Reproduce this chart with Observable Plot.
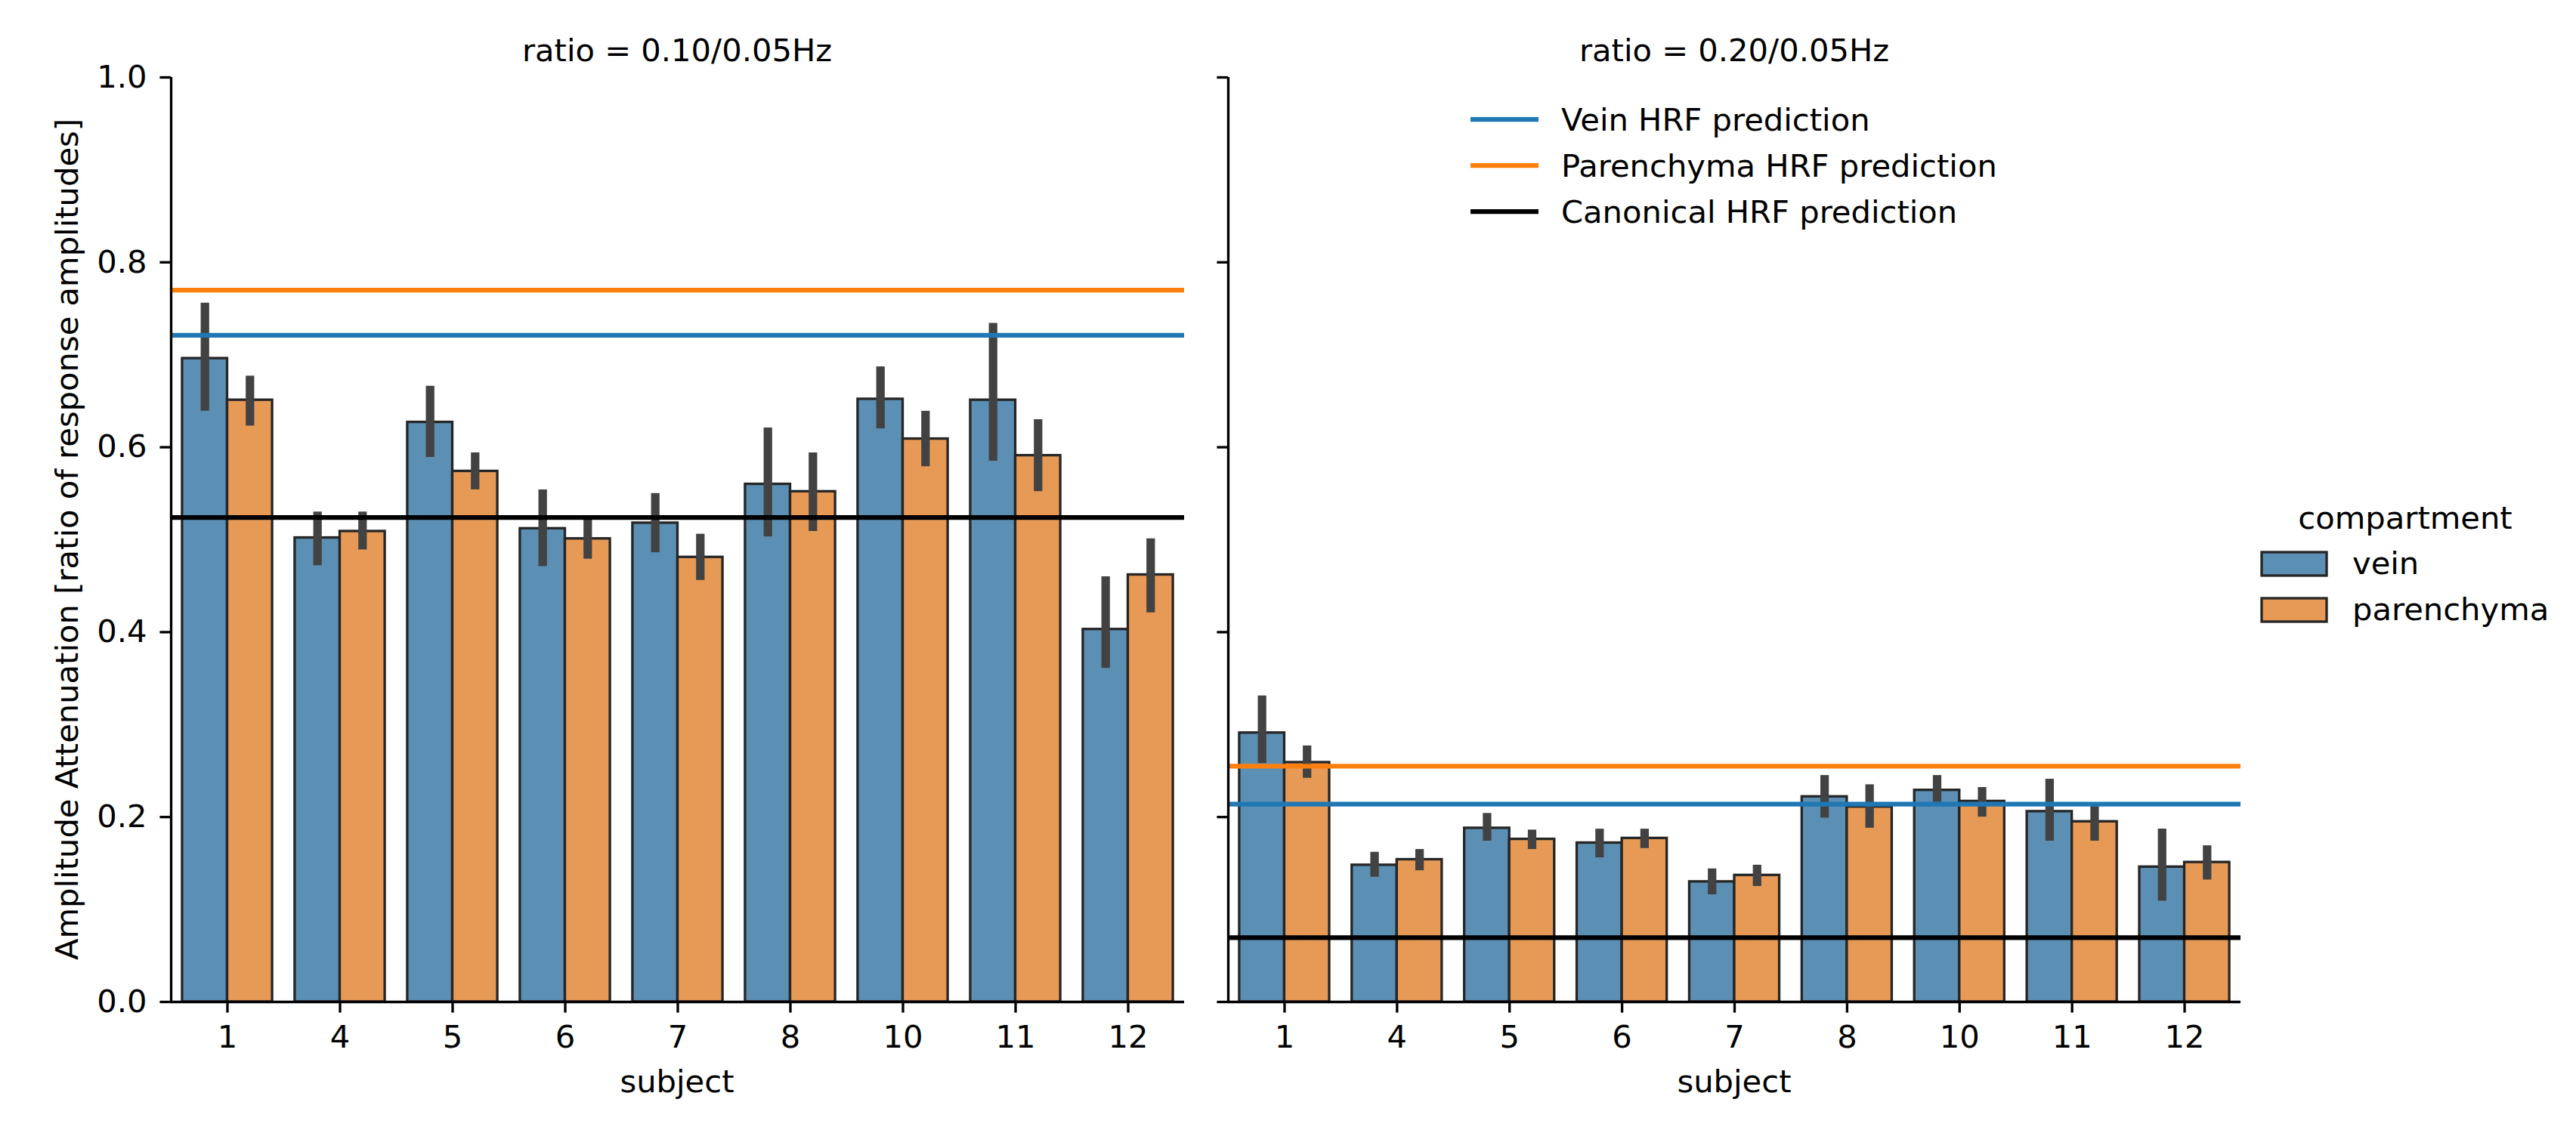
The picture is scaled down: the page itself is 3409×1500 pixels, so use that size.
<!DOCTYPE html>
<html>
<head>
<meta charset="utf-8">
<script src="https://cdn.jsdelivr.net/npm/d3@7"></script>
<script src="https://cdn.jsdelivr.net/npm/@observablehq/plot@0.6"></script>
<style>
  html, body { margin: 0; padding: 0; background: #fff; }
  #fig { position: relative; width: 3409px; height: 1500px; background: #fff; font-family: "DejaVu Sans"; overflow: hidden; }
  #fig > svg { position: absolute; top: 0; }
</style>
</head>
<body>
<div id="fig"></div>
<script>
// ---------- data ----------
const subjects = ["1", "4", "5", "6", "7", "8", "10", "11", "12"];
const compartments = ["vein", "parenchyma"];
const ratioLabels = ["ratio = 0.10/0.05Hz", "ratio = 0.20/0.05Hz"];
const yTicks = [0, 0.2, 0.4, 0.6, 0.8, 1.0];

// ratio 0.10/0.05Hz
const veinMeanA = [0.696, 0.502, 0.627, 0.512, 0.518, 0.560, 0.652, 0.651, 0.403];
const veinLoA   = [0.639, 0.472, 0.589, 0.471, 0.486, 0.503, 0.620, 0.585, 0.361];
const veinHiA   = [0.756, 0.530, 0.666, 0.554, 0.550, 0.621, 0.687, 0.734, 0.460];
const parMeanA  = [0.651, 0.509, 0.574, 0.501, 0.481, 0.552, 0.609, 0.591, 0.462];
const parLoA    = [0.623, 0.489, 0.554, 0.479, 0.456, 0.509, 0.579, 0.552, 0.421];
const parHiA    = [0.677, 0.530, 0.594, 0.522, 0.506, 0.594, 0.639, 0.630, 0.501];

// ratio 0.20/0.05Hz
const veinMeanB = [0.291, 0.148, 0.188, 0.172, 0.130, 0.222, 0.229, 0.206, 0.146];
const veinLoB   = [0.258, 0.135, 0.174, 0.156, 0.116, 0.199, 0.216, 0.174, 0.109];
const veinHiB   = [0.331, 0.162, 0.204, 0.187, 0.144, 0.245, 0.245, 0.241, 0.187];
const parMeanB  = [0.259, 0.154, 0.176, 0.177, 0.137, 0.211, 0.217, 0.195, 0.151];
const parLoB    = [0.242, 0.142, 0.165, 0.166, 0.125, 0.188, 0.200, 0.174, 0.132];
const parHiB    = [0.277, 0.165, 0.186, 0.187, 0.148, 0.235, 0.232, 0.212, 0.169];

// HRF predictions per ratio
const predLabels = ["Vein HRF prediction", "Parenchyma HRF prediction", "Canonical HRF prediction"];
const veinPred = [0.721, 0.214];
const parPred = [0.770, 0.255];
const canonPred = [0.524, 0.0695];

// ---------- styles ----------
const barColors = ["#5b90b4", "#e79a56"];
const predColors = ["#1f77b4", "#ff7f0e", "#000000"];
const edgeColor = "#262626";
const errColor = "#424242";
const FONT = "DejaVu Sans";
const FS = 41.67;
const LW = 3.33;

function buildRows(vm, vl, vh, pm, pl, ph) {
  const rows = [];
  subjects.forEach((s, i) => {
    rows.push({i, subject: s, compartment: "vein", mean: vm[i], lo: vl[i], hi: vh[i]});
  });
  subjects.forEach((s, i) => {
    rows.push({i, subject: s, compartment: "parenchyma", mean: pm[i], lo: pl[i], hi: ph[i]});
  });
  return rows;
}

const panels = [
  {rows: buildRows(veinMeanA, veinLoA, veinHiA, parMeanA, parLoA, parHiA), preds: [veinPred[0], parPred[0], canonPred[0]],
   left: 0, width: 1600, marginLeft: 226, marginRight: 33, labels: true},
  {rows: buildRows(veinMeanB, veinLoB, veinHiB, parMeanB, parLoB, parHiB), preds: [veinPred[1], parPred[1], canonPred[1]],
   left: 1600, width: 1400, marginLeft: 25, marginRight: 35, labels: false}
];

const groupWidth = 0.8;
const half = groupWidth / 2;
const dodge = d => (d.compartment === "vein" ? -half : 0);

const fig = document.getElementById("fig");

panels.forEach(p => {
  const svg = Plot.plot({
    width: p.width,
    height: 1500,
    marginLeft: p.marginLeft,
    marginRight: p.marginRight,
    marginTop: 102,
    marginBottom: 174,
    style: {fontFamily: FONT, fontSize: FS + "px", background: "transparent", overflow: "visible", color: "#000"},
    x: {type: "linear", domain: [-0.5, subjects.length - 0.5]},
    y: {domain: [0, 1]},
    color: {domain: compartments, range: barColors},
    marks: [
      Plot.rect(p.rows, {
        x1: d => d.i + dodge(d),
        x2: d => d.i + dodge(d) + half,
        y1: 0,
        y2: "mean",
        fill: "compartment",
        stroke: edgeColor,
        strokeWidth: LW
      }),
      Plot.ruleX(p.rows, {
        x: d => d.i + dodge(d) + half / 2,
        y1: "lo",
        y2: "hi",
        stroke: errColor,
        strokeWidth: 11.25
      }),
      Plot.ruleY([p.preds[0]], {stroke: predColors[0], strokeWidth: 6.25}),
      Plot.ruleY([p.preds[1]], {stroke: predColors[1], strokeWidth: 6.25}),
      Plot.ruleY([p.preds[2]], {stroke: predColors[2], strokeWidth: 6.25}),
      Plot.ruleX([-0.5], {stroke: "#000", strokeWidth: LW}),
      Plot.ruleY([0], {stroke: "#000", strokeWidth: LW}),
      Plot.axisY({
        ticks: yTicks,
        tickFormat: p.labels ? d3.format(".1f") : () => "",
        tickSize: 14.6,
        tickPadding: 17.4,
        strokeWidth: LW,
        label: null
      }),
      Plot.axisX({
        ticks: d3.range(subjects.length),
        tickFormat: i => subjects[i],
        tickSize: 14.6,
        tickPadding: 16.8,
        strokeWidth: LW,
        label: null
      })
    ]
  });
  svg.style.left = p.left + "px";
  fig.appendChild(svg);
});

// ---------- text overlay: titles, axis labels, legends ----------
const ov = d3.select(fig).append("svg")
  .attr("width", 3409).attr("height", 1500)
  .style("left", "0px").style("pointer-events", "none")
  .attr("font-family", FONT).attr("font-size", FS).attr("fill", "#000");

const centers = [896, 2295];
ratioLabels.forEach((t, k) => {
  ov.append("text").attr("x", centers[k]).attr("y", 81).attr("text-anchor", "middle").text(t);
  ov.append("text").attr("x", centers[k]).attr("y", 1446).attr("text-anchor", "middle").text("subject");
});
ov.append("text")
  .attr("transform", "translate(103,714) rotate(-90)")
  .attr("text-anchor", "middle")
  .text("Amplitude Attenuation [ratio of response amplitudes]");

// HRF legend
const lgY = [158, 219, 280];
predLabels.forEach((t, k) => {
  ov.append("line").attr("x1", 1946).attr("x2", 2036).attr("y1", lgY[k]).attr("y2", lgY[k])
    .attr("stroke", predColors[k]).attr("stroke-width", 6.25);
  ov.append("text").attr("x", 2066).attr("y", lgY[k] + 15).text(t);
});

// compartment legend
ov.append("text").attr("x", 3183).attr("y", 700).attr("text-anchor", "middle").text("compartment");
const patchY = [731, 792];
compartments.forEach((c, k) => {
  ov.append("rect").attr("x", 2993).attr("y", patchY[k]).attr("width", 86).attr("height", 31)
    .attr("fill", barColors[k]).attr("stroke", edgeColor).attr("stroke-width", LW);
  ov.append("text").attr("x", 3113).attr("y", patchY[k] + 29).text(c);
});
</script>
</body>
</html>
